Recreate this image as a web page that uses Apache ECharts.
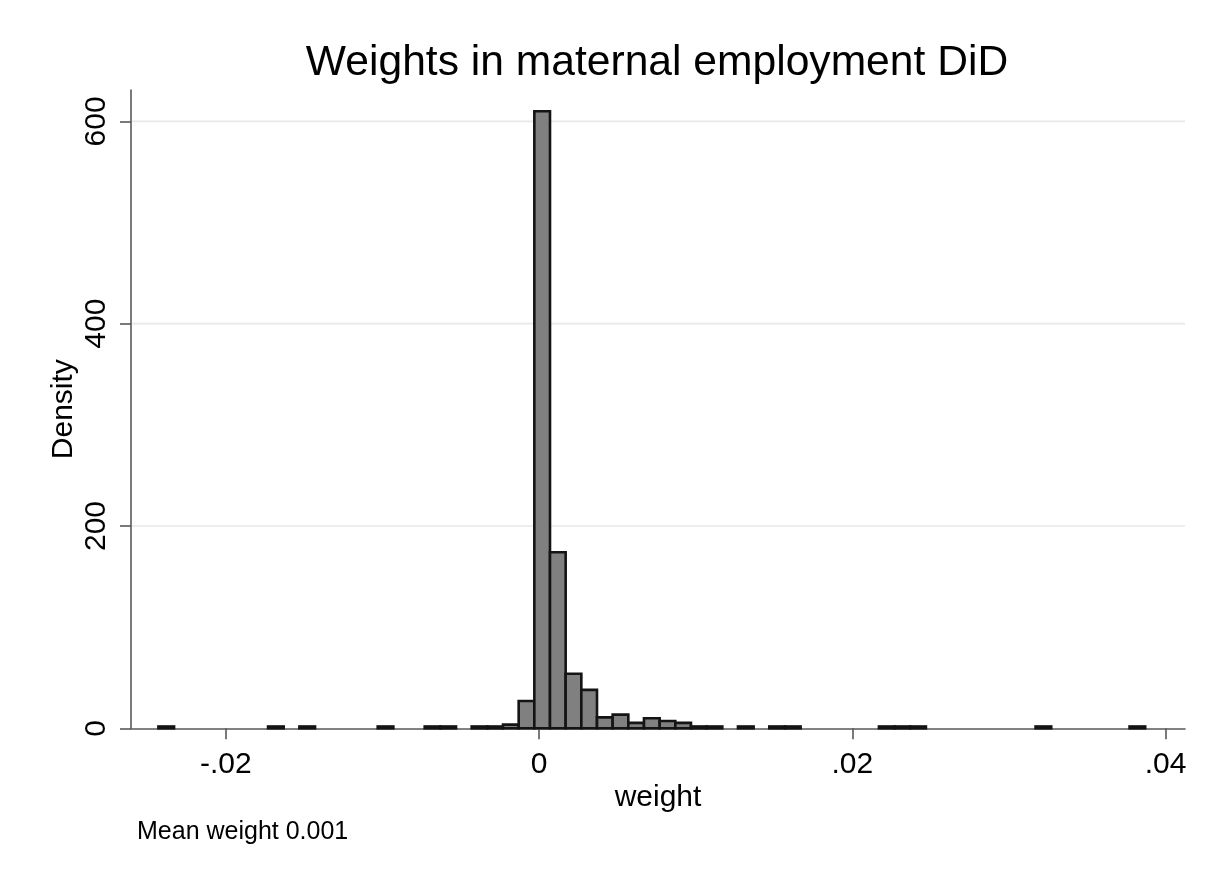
<!DOCTYPE html>
<html><head><meta charset="utf-8">
<script src="https://cdn.jsdelivr.net/npm/echarts@6/dist/echarts.min.js"></script>
<style>html,body{margin:0;padding:0;background:#fff}#c{width:1208px;height:875px}</style>
</head><body><div id="c"></div>
<script>
// Histogram bins (weight), width 0.001 starting at binStart
const binStart = -0.0243;
const binWidth = 0.001;
const densities = [
  1.8, 0, 0, 0, 0, 0, 0, 1.8, 0, 1.8,
  0, 0, 0, 0, 1.8, 0, 0, 1.8, 1.8, 0,
  1.8, 1.8, 3.6, 27, 610, 174, 54, 38, 10.8, 13.5,
  5.4, 10, 7.2, 5.4, 1.8, 1.8, 0, 1.8, 0, 1.8,
  1.8, 0, 0, 0, 0, 0, 1.8, 1.8, 1.8, 0,
  0, 0, 0, 0, 0, 0, 1.8, 0, 0, 0,
  0, 0, 1.8
];
const xTicks = [-0.02, 0, 0.02, 0.04];
const xTickLabels = ['-.02', '0', '.02', '.04'];
const yTicks = [0, 200, 400, 600];
const yGrid = [200, 400, 600];
const xMin = -0.02605, xMax = 0.04124;
const yMax = 631;

const FONT = 'Liberation Sans, Arial, Helvetica, sans-serif';
const binData = densities.map((d, i) => [binStart + i * binWidth, binStart + (i + 1) * binWidth, d]);

const chart = echarts.init(document.getElementById('c'), null, {renderer: 'canvas'});
chart.setOption({
  backgroundColor: '#fff',
  animation: false,
  grid: {left: 131, right: 23, top: 90, bottom: 146.7, containLabel: false},
  graphic: [
    {type: 'text', x: 657, y: 63, style: {text: 'Weights in maternal employment DiD', font: '42.6px ' + FONT, fill: '#000', align: 'center', verticalAlign: 'middle'}},
    {type: 'text', x: 137, y: 832, style: {text: 'Mean weight 0.001', font: '25px ' + FONT, fill: '#000', align: 'left', verticalAlign: 'middle'}}
  ],
  xAxis: {
    type: 'value', min: xMin, max: xMax,
    name: 'weight', nameLocation: 'middle', nameGap: 54, nameMoveOverlap: false,
    nameTextStyle: {fontSize: 30, fontFamily: FONT, color: '#000'},
    axisLine: {show: true, onZero: false, lineStyle: {color: '#595959', width: 1.6}},
    axisTick: {show: true, length: 11, inside: false, customValues: xTicks, lineStyle: {color: '#595959', width: 1.6}},
    axisLabel: {customValues: xTicks, margin: 21, fontSize: 30, fontFamily: FONT, color: '#000',
      formatter: v => { const i = xTicks.findIndex(t => Math.abs(t - v) < 1e-9); return i >= 0 ? xTickLabels[i] : ''; }},
    splitLine: {show: false}
  },
  yAxis: {
    type: 'value', min: 0, max: yMax,
    name: 'Density', nameLocation: 'middle', nameGap: 52, nameMoveOverlap: false,
    nameTextStyle: {fontSize: 30, fontFamily: FONT, color: '#000'},
    axisLine: {show: true, onZero: false, lineStyle: {color: '#595959', width: 1.6}},
    axisTick: {show: true, length: 11, inside: false, customValues: yTicks, lineStyle: {color: '#595959', width: 1.6}},
    axisLabel: {customValues: yTicks, rotate: 90, margin: 19, fontSize: 30, fontFamily: FONT, color: '#000'},
    splitLine: {show: false}
  },
  series: [
    {
      type: 'custom', name: 'grid', z: 1, silent: true,
      data: yGrid.map(v => [v]),
      encode: {y: 0},
      renderItem: function (params, api) {
        const v = api.value(0);
        const a = api.coord([xMin, v]);
        const b = api.coord([xMax, v]);
        return {type: 'line', shape: {x1: a[0] + 1, y1: a[1], x2: b[0], y2: b[1]}, style: {stroke: '#e8e8e8', lineWidth: 1.6}};
      }
    },
    {
      type: 'custom', name: 'weight', z: 3, clip: false,
      data: binData,
      encode: {x: [0, 1], y: 2},
      renderItem: function (params, api) {
        const x0 = api.value(0), x1 = api.value(1), h = api.value(2);
        if (!(h > 0)) return null;
        const p0 = api.coord([x0, h]);
        const p1 = api.coord([x1, 0]);
        return {type: 'rect', shape: {x: p0[0], y: p0[1], width: p1[0] - p0[0], height: p1[1] - p0[1]},
          style: {fill: '#808080', stroke: '#141414', lineWidth: 2.6}};
      }
    }
  ]
});
</script>
</body></html>
